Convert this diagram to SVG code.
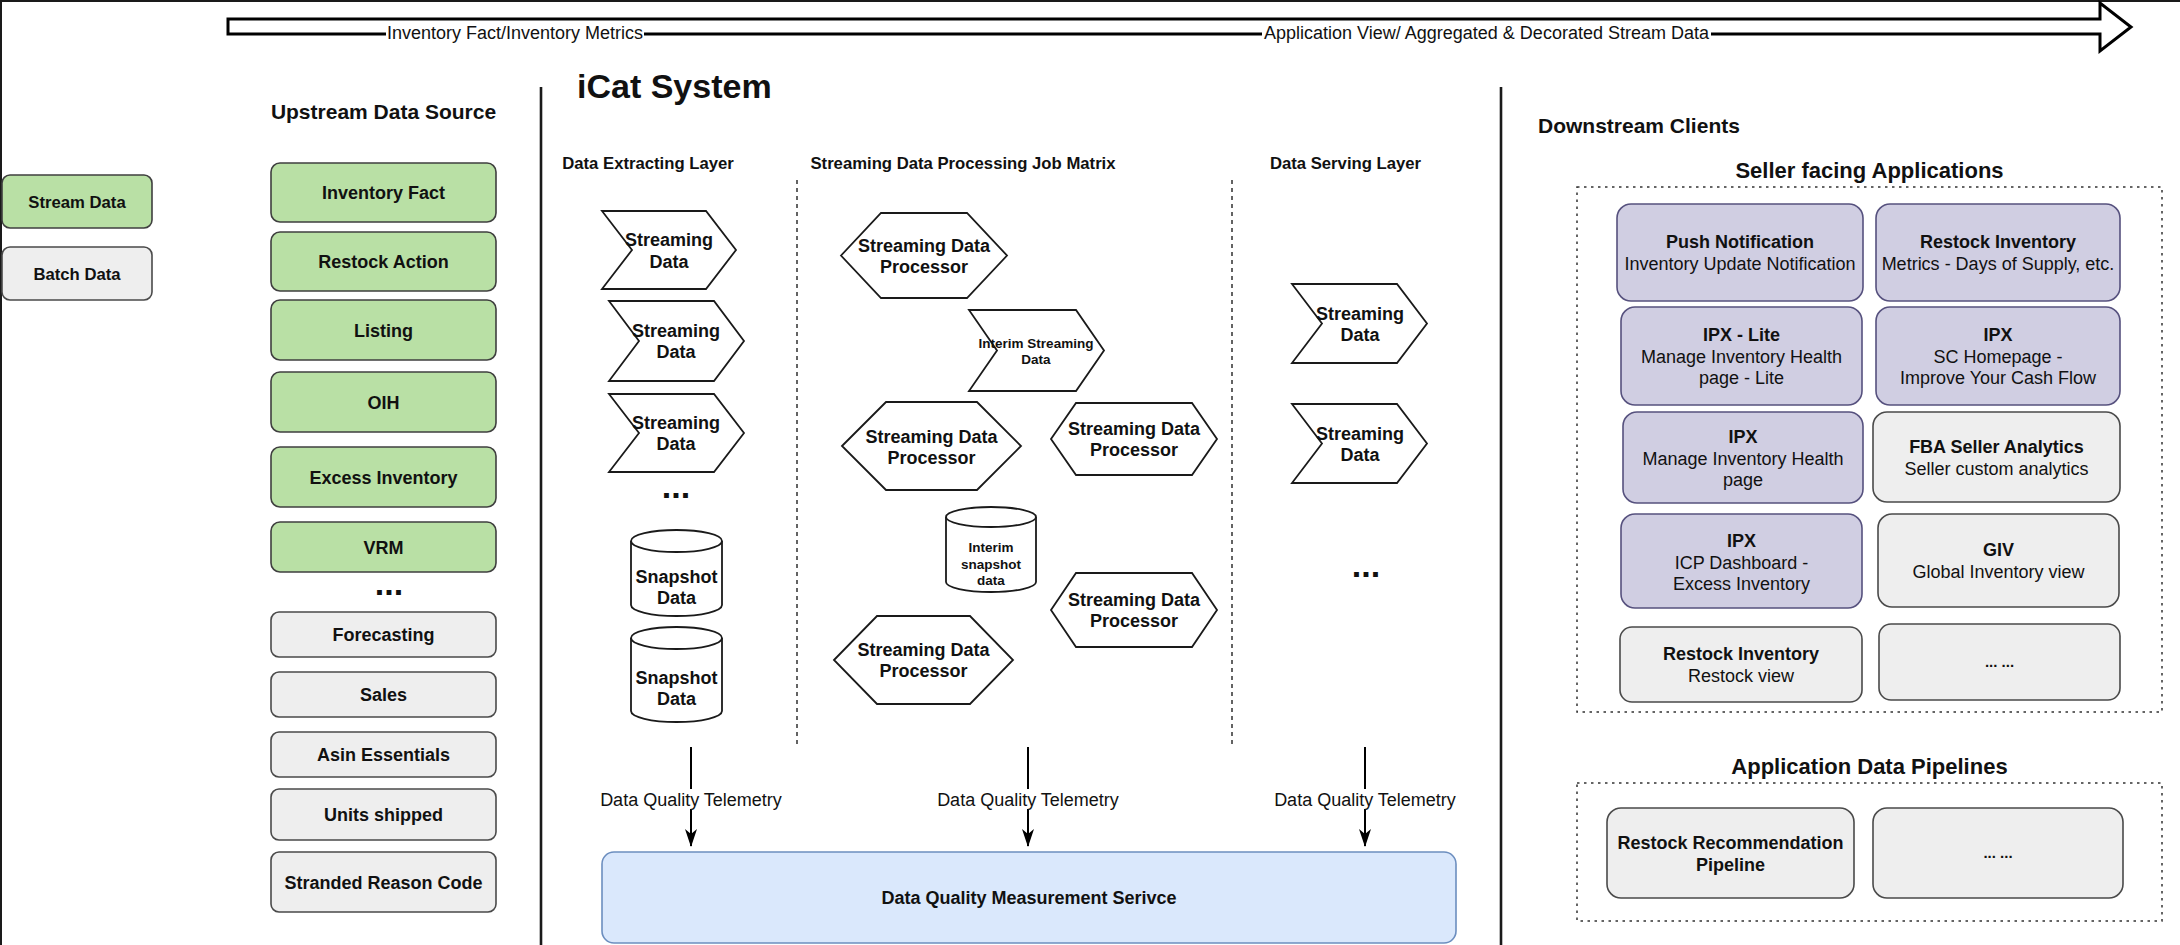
<svg xmlns="http://www.w3.org/2000/svg" width="2180" height="945" viewBox="0 0 2180 945">
<defs>
<style>
text{font-family:"Liberation Sans",Arial,Helvetica,sans-serif;fill:#111;text-anchor:middle}
.b{font-weight:bold}
.f18{font-size:18px}
.f17{font-size:16.7px}
.f13{font-size:13.5px}
.f21{font-size:21px}
.f22{font-size:22px}
.dots{font-size:34px;font-weight:bold}
.green{fill:#b9e0a5;stroke:#3f3f3f;stroke-width:1.6}
.gray{fill:#eeeeee;stroke:#4a4a4a;stroke-width:1.6}
.purple{fill:#d0cee2;stroke:#56517e;stroke-width:1.6}
.blue{fill:#dae8fc;stroke:#6c8ebf;stroke-width:1.6}
.shape{fill:#ffffff;stroke:#1a1a1a;stroke-width:1.8}
.div{stroke:#1a1a1a;stroke-width:2.6;fill:none}
.vdash{stroke:#222;stroke-width:1.4;stroke-dasharray:4 4;fill:none}
.cont{fill:none;stroke:#333;stroke-width:1.5;stroke-dasharray:2.5 4.5}
.conn{stroke:#000;stroke-width:2;fill:none}
</style>
<marker id="ah" viewBox="0 0 18 12" markerWidth="18" markerHeight="12" refX="17" refY="6" orient="auto" markerUnits="userSpaceOnUse">
<path d="M0,0 L18,6 L0,12 L5,6 Z" fill="#000"/>
</marker>
</defs>
<rect x="0" y="0" width="2180" height="945" fill="#ffffff"/>
<rect x="0" y="0" width="2180" height="2" fill="#1a1a1a"/>
<rect x="0" y="0" width="2" height="945" fill="#1a1a1a"/>

<g id="flow-arrow">
<path d="M228,19 L2100,19 L2100,3 L2131,27 L2100,51 L2100,34 L228,34 Z" fill="#ffffff" stroke="#000" stroke-width="3" stroke-linejoin="miter"/>
<rect x="386" y="25" width="258" height="18" fill="#ffffff"/>
<text class="f18" x="515" y="39">Inventory Fact/Inventory Metrics</text>
<rect x="1262" y="25" width="449" height="18" fill="#ffffff"/>
<text class="f18" x="1486.5" y="39">Application View/ Aggregated &amp; Decorated Stream Data</text>
</g>

<g id="legend">
<g id="legend-stream"><rect class="green" x="2" y="175" width="150" height="53" rx="8"/><text class="b f17" x="77" y="207.5">Stream Data</text></g>
<g id="legend-batch"><rect class="gray" x="2" y="247" width="150" height="53" rx="8"/><text class="b f17" x="77" y="279.5">Batch Data</text></g>
</g>

<g id="upstream">
<text class="b f21" x="383.5" y="119">Upstream Data Source</text>
<g id="up-inventory-fact"><rect class="green" x="271" y="163" width="225" height="59" rx="9"/><text class="b f18" x="383.5" y="199">Inventory Fact</text></g>
<g id="up-restock-action"><rect class="green" x="271" y="232" width="225" height="59" rx="9"/><text class="b f18" x="383.5" y="268">Restock Action</text></g>
<g id="up-listing"><rect class="green" x="271" y="300" width="225" height="60" rx="9"/><text class="b f18" x="383.5" y="336.5">Listing</text></g>
<g id="up-oih"><rect class="green" x="271" y="372" width="225" height="60" rx="9"/><text class="b f18" x="383.5" y="408.5">OIH</text></g>
<g id="up-excess"><rect class="green" x="271" y="447" width="225" height="60" rx="9"/><text class="b f18" x="383.5" y="483.5">Excess Inventory</text></g>
<g id="up-vrm"><rect class="green" x="271" y="522" width="225" height="50" rx="9"/><text class="b f18" x="383.5" y="553.5">VRM</text></g>
<text class="dots" x="389" y="595">...</text>
<g id="up-forecasting"><rect class="gray" x="271" y="612" width="225" height="45" rx="8"/><text class="b f18" x="383.5" y="641">Forecasting</text></g>
<g id="up-sales"><rect class="gray" x="271" y="672" width="225" height="45" rx="8"/><text class="b f18" x="383.5" y="701">Sales</text></g>
<g id="up-asin"><rect class="gray" x="271" y="732" width="225" height="45" rx="8"/><text class="b f18" x="383.5" y="761">Asin Essentials</text></g>
<g id="up-units"><rect class="gray" x="271" y="789" width="225" height="51" rx="8"/><text class="b f18" x="383.5" y="821">Units shipped</text></g>
<g id="up-stranded"><rect class="gray" x="271" y="852" width="225" height="60" rx="8"/><text class="b f18" x="383.5" y="888.5">Stranded Reason Code</text></g>
</g>

<g id="icat">
<line class="div" x1="541" y1="87" x2="541" y2="945"/>
<line class="div" x1="1501" y1="87" x2="1501" y2="945"/>
<text class="b" x="577" y="98" style="font-size:34px;text-anchor:start">iCat System</text>
<text class="b f17" x="648" y="169">Data Extracting Layer</text>
<text class="b f17" x="963" y="169">Streaming Data Processing Job Matrix</text>
<text class="b f17" x="1345.5" y="169">Data Serving Layer</text>
<line class="vdash" x1="797" y1="180" x2="797" y2="748"/>
<line class="vdash" x1="1232" y1="180" x2="1232" y2="748"/>

<g id="ex-stream-1"><path class="shape" d="M602,211 L706,211 L736,250 L706,289 L602,289 L632,250 Z"/><text class="b f18" x="669" y="246">Streaming</text><text class="b f18" x="669" y="268">Data</text></g>
<g id="ex-stream-2"><path class="shape" d="M609,301 L714,301 L744,341 L714,381 L609,381 L639,341 Z"/><text class="b f18" x="676" y="337">Streaming</text><text class="b f18" x="676" y="358">Data</text></g>
<g id="ex-stream-3"><path class="shape" d="M609,394 L714,394 L744,433 L714,472 L609,472 L639,433 Z"/><text class="b f18" x="676" y="429">Streaming</text><text class="b f18" x="676" y="450">Data</text></g>
<text class="dots" x="676" y="498">...</text>
<g id="ex-snapshot-1">
<path class="shape" d="M631,541 A45.5,11 0 0 1 722,541 L722,605 A45.5,11 0 0 1 631,605 Z"/>
<path class="shape" d="M631,541 A45.5,11 0 0 0 722,541" fill="none"/>
<text class="b f18" x="676.5" y="583">Snapshot</text><text class="b f18" x="676.5" y="604">Data</text></g>
<g id="ex-snapshot-2">
<path class="shape" d="M631,638 A45.5,11 0 0 1 722,638 L722,711 A45.5,11 0 0 1 631,711 Z"/>
<path class="shape" d="M631,638 A45.5,11 0 0 0 722,638" fill="none"/>
<text class="b f18" x="676.5" y="684">Snapshot</text><text class="b f18" x="676.5" y="705">Data</text></g>

<g id="proc-1"><path class="shape" d="M841,255.5 L881,213 L967,213 L1007,255.5 L967,298 L881,298 Z"/><text class="b f18" x="924" y="252">Streaming Data</text><text class="b f18" x="924" y="273">Processor</text></g>
<g id="interim-stream"><path class="shape" d="M969,310 L1076,310 L1104,350.5 L1076,391 L969,391 L997,350.5 Z"/><text class="b f13" x="1036" y="348">Interim Streaming</text><text class="b f13" x="1036" y="364">Data</text></g>
<g id="proc-2"><path class="shape" d="M842,446 L886,402 L977,402 L1021,446 L977,490 L886,490 Z"/><text class="b f18" x="931.5" y="443">Streaming Data</text><text class="b f18" x="931.5" y="464">Processor</text></g>
<g id="proc-3"><path class="shape" d="M1051,439 L1076,403 L1192,403 L1217,439 L1192,475 L1076,475 Z"/><text class="b f18" x="1134" y="435">Streaming Data</text><text class="b f18" x="1134" y="456">Processor</text></g>
<g id="interim-snapshot">
<path class="shape" d="M946,517 A45,10 0 0 1 1036,517 L1036,582 A45,10 0 0 1 946,582 Z"/>
<path class="shape" d="M946,517 A45,10 0 0 0 1036,517" fill="none"/>
<text class="b f13" x="991" y="552">Interim</text><text class="b f13" x="991" y="568.5">snapshot</text><text class="b f13" x="991" y="585">data</text></g>
<g id="proc-4"><path class="shape" d="M1051,610 L1076,573 L1192,573 L1217,610 L1192,647 L1076,647 Z"/><text class="b f18" x="1134" y="606">Streaming Data</text><text class="b f18" x="1134" y="627">Processor</text></g>
<g id="proc-5"><path class="shape" d="M834,660 L877,616 L970,616 L1013,660 L970,704 L877,704 Z"/><text class="b f18" x="923.5" y="656">Streaming Data</text><text class="b f18" x="923.5" y="677">Processor</text></g>

<g id="serve-stream-1"><path class="shape" d="M1292,284 L1397,284 L1427,323.5 L1397,363 L1292,363 L1322,323.5 Z"/><text class="b f18" x="1360" y="320">Streaming</text><text class="b f18" x="1360" y="341">Data</text></g>
<g id="serve-stream-2"><path class="shape" d="M1292,404 L1397,404 L1427,443.5 L1397,483 L1292,483 L1322,443.5 Z"/><text class="b f18" x="1360" y="440">Streaming</text><text class="b f18" x="1360" y="461">Data</text></g>
<text class="dots" x="1366" y="577">...</text>

<g id="dq-service"><rect class="blue" x="602" y="852" width="854" height="91" rx="12"/><text class="b f18" x="1029" y="904">Data Quality Measurement Serivce</text></g>
</g>

<g id="connectors">
<line class="conn" x1="691" y1="747" x2="691" y2="846" marker-end="url(#ah)"/>
<line class="conn" x1="1028" y1="747" x2="1028" y2="846" marker-end="url(#ah)"/>
<line class="conn" x1="1365" y1="747" x2="1365" y2="846" marker-end="url(#ah)"/>
<rect x="597" y="789" width="188" height="20" fill="#ffffff"/>
<text class="f18" x="691" y="805.5">Data Quality Telemetry</text>
<rect x="934" y="789" width="188" height="20" fill="#ffffff"/>
<text class="f18" x="1028" y="805.5">Data Quality Telemetry</text>
<rect x="1271" y="789" width="188" height="20" fill="#ffffff"/>
<text class="f18" x="1365" y="805.5">Data Quality Telemetry</text>
</g>

<g id="downstream">
<text class="b f21" x="1538" y="133" style="text-anchor:start">Downstream Clients</text>
<text class="b f22" x="1869.5" y="178">Seller facing Applications</text>
<rect class="cont" x="1577" y="187" width="585" height="525"/>
<g id="app-push"><rect class="purple" x="1617" y="204" width="246" height="97" rx="14"/><text class="b f18" x="1740" y="248">Push Notification</text><text class="f18" x="1740" y="269.5">Inventory Update Notification</text></g>
<g id="app-restock-metrics"><rect class="purple" x="1876" y="204" width="244" height="97" rx="14"/><text class="b f18" x="1998" y="248">Restock Inventory</text><text class="f18" x="1998" y="269.5">Metrics - Days of Supply, etc.</text></g>
<g id="app-ipx-lite"><rect class="purple" x="1621" y="307" width="241" height="98" rx="14"/><text class="b f18" x="1741.5" y="341">IPX - Lite</text><text class="f18" x="1741.5" y="362.5">Manage Inventory Health</text><text class="f18" x="1741.5" y="384">page - Lite</text></g>
<g id="app-ipx-sc"><rect class="purple" x="1876" y="307" width="244" height="98" rx="14"/><text class="b f18" x="1998" y="341">IPX</text><text class="f18" x="1998" y="362.5">SC Homepage -</text><text class="f18" x="1998" y="384">Improve Your Cash Flow</text></g>
<g id="app-ipx-mih"><rect class="purple" x="1623" y="412" width="240" height="91" rx="14"/><text class="b f18" x="1743" y="443">IPX</text><text class="f18" x="1743" y="464.5">Manage Inventory Health</text><text class="f18" x="1743" y="486">page</text></g>
<g id="app-fba"><rect class="gray" x="1873" y="412" width="247" height="90" rx="14"/><text class="b f18" x="1996.5" y="453">FBA Seller Analytics</text><text class="f18" x="1996.5" y="474.5">Seller custom analytics</text></g>
<g id="app-ipx-icp"><rect class="purple" x="1621" y="514" width="241" height="94" rx="14"/><text class="b f18" x="1741.5" y="547">IPX</text><text class="f18" x="1741.5" y="568.5">ICP Dashboard -</text><text class="f18" x="1741.5" y="590">Excess Inventory</text></g>
<g id="app-giv"><rect class="gray" x="1878" y="514" width="241" height="93" rx="14"/><text class="b f18" x="1998.5" y="556">GIV</text><text class="f18" x="1998.5" y="577.5">Global Inventory view</text></g>
<g id="app-restock-view"><rect class="gray" x="1620" y="627" width="242" height="75" rx="12"/><text class="b f18" x="1741" y="660">Restock Inventory</text><text class="f18" x="1741" y="681.5">Restock view</text></g>
<g id="app-more"><rect class="gray" x="1879" y="624" width="241" height="76" rx="12"/><text class="b" x="1999.5" y="667" style="font-size:15px">... ...</text></g>

<text class="b f22" x="1869.5" y="774">Application Data Pipelines</text>
<rect class="cont" x="1577" y="783" width="585" height="138"/>
<g id="pipe-restock"><rect class="gray" x="1607" y="808" width="247" height="90" rx="14"/><text class="b f18" x="1730.5" y="849">Restock Recommendation</text><text class="b f18" x="1730.5" y="870.5">Pipeline</text></g>
<g id="pipe-more"><rect class="gray" x="1873" y="808" width="250" height="90" rx="14"/><text class="b" x="1998" y="858" style="font-size:15px">... ...</text></g>
</g>
</svg>
